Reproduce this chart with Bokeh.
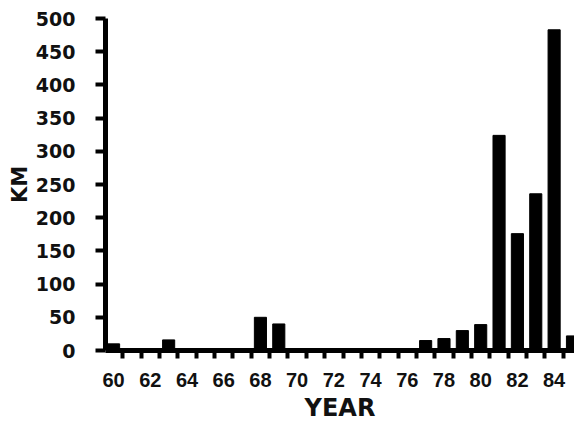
from bokeh.plotting import figure
from bokeh.models import FixedTicker, Range1d, ColumnDataSource
from bokeh.embed import file_html
from bokeh.resources import INLINE

# ---- data ----
years = list(range(60, 86))
km = [10, 0, 0, 16, 0, 0, 0, 0, 50, 40,
      0, 0, 0, 0, 0, 0, 0, 15, 18, 30,
      39, 324, 176, 236, 483, 22]
x_label_years = list(range(60, 85, 2))
y_ticks = list(range(0, 501, 50))

source = ColumnDataSource(data=dict(year=years, km=km))

p = figure(
    frame_width=469, frame_height=332,
    x_range=Range1d(59.56, 85.11), y_range=Range1d(0, 500),
    output_backend="svg", toolbar_location=None,
    min_border_left=105, min_border_right=0, min_border_top=18, min_border_bottom=69,
    background_fill_color="white", border_fill_color="white",
)
p.outline_line_color = None
p.grid.visible = False

p.vbar(x="year", top="km", width=0.66, bottom=0, source=source,
       fill_color="black", line_color="black")

# y axis
ya = p.yaxis[0]
ya.ticker = FixedTicker(ticks=y_ticks)
ya.axis_line_width = 5
ya.axis_line_color = "black"
ya.major_tick_out = 10
ya.major_tick_in = 0
ya.major_tick_line_width = 4
ya.minor_tick_out = 0
ya.minor_tick_in = 0
ya.major_label_standoff = 20
ya.major_label_text_font = "DejaVu Sans"
ya.major_label_text_font_style = "bold"
ya.major_label_text_font_size = "19px"
ya.major_label_text_color = "#111111"
ya.axis_label = "KM"
ya.axis_label_text_font = "DejaVu Sans"
ya.axis_label_text_font_style = "bold"
ya.axis_label_text_font_size = "21px"
ya.axis_label_text_color = "#111111"
ya.axis_label_standoff = 1

# x axis
xa = p.xaxis[0]
xa.ticker = FixedTicker(ticks=x_label_years, minor_ticks=[y + 0.5 for y in years])
xa.axis_line_width = 5
xa.axis_line_color = "black"
xa.major_tick_out = 0
xa.major_tick_in = 0
xa.minor_tick_out = 8
xa.minor_tick_in = 0
xa.minor_tick_line_width = 4
xa.minor_tick_line_color = "black"
xa.major_label_standoff = 14
xa.major_label_text_font = "Liberation Sans"
xa.major_label_text_font_style = "bold"
xa.major_label_text_font_size = "20px"
xa.major_label_text_color = "#111111"
xa.axis_label = "YEAR"
xa.axis_label_text_font = "DejaVu Sans"
xa.axis_label_text_font_style = "bold"
xa.axis_label_text_font_size = "24px"
xa.axis_label_text_color = "#111111"
xa.axis_label_standoff = 4

open("out.html", "w").write(file_html(p, INLINE))
